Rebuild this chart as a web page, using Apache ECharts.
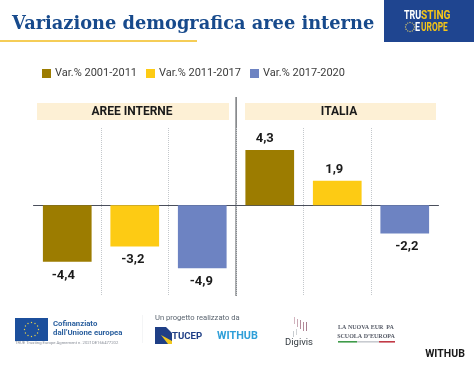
<!DOCTYPE html>
<html>
<head>
<meta charset="utf-8">
<style>
html, body { margin: 0; padding: 0; background: #fff; }
#chart { width: 474px; height: 365px; }
</style>
<script src="https://cdn.jsdelivr.net/npm/echarts@6/dist/echarts.min.js"></script>
</head>
<body>
<div id="chart"></div>
<script>
const periods = ['Var.% 2001-2011', 'Var.% 2011-2017', 'Var.% 2017-2020']
const panels = ['AREE INTERNE', 'ITALIA']
const areeInterne = [-4.4, -3.2, -4.9]
const italia = [4.3, 1.9, -2.2]
const colors = ['#9c7c00', '#fdcb14', '#6d83c2']
const labelNudge = [-4, -2, -1, -5, -3, 2]
const labelFont = 'Roboto, sans-serif'

const categories = panels.flatMap(p => periods.map(v => p + ' ' + v))

const chart = echarts.init(document.getElementById('chart'))

function rect(x, y, width, height, fill) {
    return { type: 'rect', shape: { x, y, width, height }, style: { fill }, silent: true }
}
function text(x, y, str, font, fill, align, scaleX) {
    return {
        type: 'text', x, y, scaleX: scaleX || 1,
        style: { text: str, font, fill, align: align || 'left', verticalAlign: 'middle' },
        silent: true
    }
}
function starRing(cx, cy, r, size, fill) {
    return Array.from({ length: 12 }, (_, i) => ({
        type: 'circle',
        shape: { cx: cx + r * Math.cos(i * Math.PI / 6), cy: cy + r * Math.sin(i * Math.PI / 6), r: size },
        style: { fill },
        silent: true
    }))
}

const logoFont = 'bold 13.5px Roboto, sans-serif'

const decorations = [
    rect(0, 40, 197, 2, '#f5cd57'),
    rect(384, 0, 90, 42, '#1f4590'),
    text(404, 15.5, 'TRU', logoFont, '#ffffff', 'left', 0.66),
    text(421, 15.5, 'STING', logoFont, '#f5c518', 'left', 0.75),
    text(415, 27.5, 'E', logoFont, '#ffffff', 'left', 0.66),
    text(421, 27.5, 'UROPE', logoFont, '#f5c518', 'left', 0.62),
    ...starRing(410, 27, 4.5, 0.7, '#d8c66a'),

    rect(37, 103, 192, 17, '#fdf0d5'),
    rect(245, 103, 191, 17, '#fdf0d5'),
    text(132, 112, panels[0], 'bold 12px ' + labelFont, '#1b1b1b', 'center'),
    text(339, 112, panels[1], 'bold 12px ' + labelFont, '#1b1b1b', 'center'),
    rect(235.5, 97, 1.2, 199, '#55585c'),

    // footer logos
    rect(15, 318, 33, 23, '#1c4f9c'),
    ...starRing(31.5, 329.5, 7, 0.7, '#e8d24a'),
    text(53, 324.5, 'Cofinanziato', 'bold 7.8px Roboto, sans-serif', '#2a5f9e'),
    text(53, 333.5, 'dall\u2019Unione europea', 'bold 7.8px Roboto, sans-serif', '#2a5f9e'),
    text(15, 343, 'TRUE Trusting Europe Agreement n. 2021DE166477202', '4.2px Roboto, sans-serif', '#8a8f99'),
    rect(142, 315, 0.6, 28, '#eceef0'),
    text(155, 318.5, 'Un progetto realizzato da', '7.6px Roboto, sans-serif', '#5b6570'),
    rect(155, 327, 17, 17, '#1f3f86'),
    { type: 'polygon', shape: { points: [[166, 327], [172, 327], [172, 333]] }, style: { fill: '#ffffff' }, silent: true },
    { type: 'polygon', shape: { points: [[161, 335], [172, 341], [172, 344], [168, 344]] }, style: { fill: '#f2c81e' }, silent: true },
    text(172, 336.5, 'TUCEP', 'bold 9.6px Roboto, sans-serif', '#1f3f86'),
    text(217, 336, 'WITHUB', 'bold 10.8px Roboto, sans-serif', '#2f9fd8'),
    text(299, 343, 'Digivis', '9.5px Roboto, sans-serif', '#333a40', 'center'),
    rect(294, 317, 1, 7, '#d3b5c0'),
    rect(297, 319, 1, 8, '#c9a9b4'),
    rect(300, 320, 1, 9, '#b58b9a'),
    rect(303, 322, 1, 9, '#b58b9a'),
    rect(306, 322, 1, 9, '#a97f90'),
    rect(293, 331, 1, 6, '#c8ccd0'),
    rect(296, 329, 1, 6, '#d0d3d6'),
    text(366, 327, 'LA NUOVA EUR  PA', 'bold 6px "Liberation Serif", serif', '#555a66', 'center'),
    text(366, 336, 'SCUOLA D\u2019EUROPA', 'bold 6px "Liberation Serif", serif', '#555a66', 'center'),
    rect(338, 341, 19, 1.6, '#3f9b4a'),
    rect(357, 341, 22, 1.6, '#c8cbd0'),
    rect(379, 341, 16, 1.6, '#c23a46'),
    text(445, 354.5, 'WITHUB', 'bold 10.5px Roboto, sans-serif', '#1a1a1a', 'center')
]

function valueLabel(value, index) {
    return {
        position: value < 0 ? 'bottom' : 'top',
        distance: value < 0 ? 7 : 5,
        offset: [labelNudge[index], 0]
    }
}

chart.setOption({
    animation: false,
    backgroundColor: '#ffffff',
    title: {
        text: 'Variazione demografica aree interne',
        left: 12, top: 15, padding: 0,
        textStyle: { fontFamily: '"DejaVu Serif", serif', fontWeight: 'bold', fontSize: 17.8, color: '#174a8c' }
    },
    legend: {
        data: periods,
        left: 42, top: 68, padding: 0,
        itemWidth: 9, itemHeight: 9, itemGap: 9,
        icon: 'rect',
        textStyle: { fontFamily: labelFont, fontSize: 11, color: '#3c3c3c', padding: [0, 0, 0, -1] }
    },
    grid: { left: 33.5, right: 35.5, top: 128, height: 167.3 },
    xAxis: {
        type: 'category',
        data: categories,
        axisLine: { onZero: true, lineStyle: { color: '#4a4f5c', width: 1 } },
        axisTick: { show: false },
        axisLabel: { show: false },
        splitLine: {
            show: true, showMinLine: false, showMaxLine: false,
            interval: 0,
            lineStyle: { type: 'dotted', color: '#c4c8cc', width: 1 }
        }
    },
    yAxis: { type: 'value', min: -7, max: 6, interval: 1, show: false, splitLine: { show: false } },
    series: periods.map((name, s) => ({
        name,
        type: 'bar',
        stack: 'var',
        barWidth: 48.7,
        itemStyle: { color: colors[s] },
        label: {
            show: true,
            fontFamily: labelFont,
            fontWeight: 'bold',
            fontSize: 13,
            color: '#1b1b1b',
            formatter: p => String(p.value).replace('.', ',')
        },
        data: categories.map((_, i) => {
            if (i === s) return { value: areeInterne[s], label: valueLabel(areeInterne[s], i) }
            if (i === s + 3) return { value: italia[s], label: valueLabel(italia[s], i) }
            return null
        })
    })),
    graphic: decorations
})
</script>
</body>
</html>
